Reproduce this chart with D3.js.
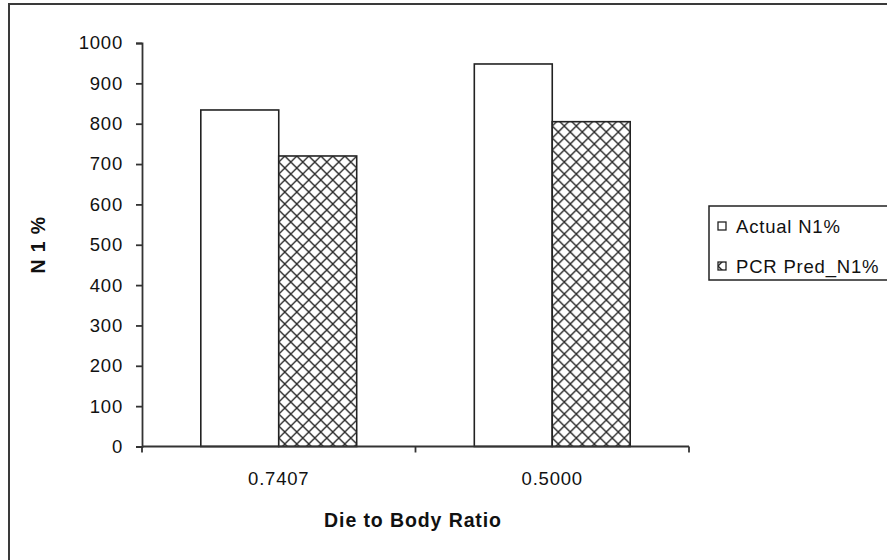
<!DOCTYPE html>
<html>
<head>
<meta charset="utf-8">
<script src="https://cdn.jsdelivr.net/npm/d3@7"></script>
<style>
  html, body { margin: 0; padding: 0; background: #fff; }
  svg { display: block; }
  text { font-family: Arial, "Liberation Sans", sans-serif; fill: #111; }
</style>
</head>
<body>
<svg id="chart" width="887" height="560"></svg>
<script>
// Chart data
const categories = ["0.7407", "0.5000"];
const seriesNames = ["Actual N1%", "PCR Pred_N1%"];
const actualN1 = [834, 948];
const pcrPredN1 = [720, 805];
const yTicks = [0, 100, 200, 300, 400, 500, 600, 700, 800, 900, 1000];
const xTitle = "Die to Body Ratio";
const yTitle = "N 1 %";

const seriesValues = [actualN1, pcrPredN1];

const svg = d3.select("#chart");
const ink = "#222";
const labelSize = 18.5;

// Crosshatch fill for the predicted series
const defs = svg.append("defs");
const hatch = defs.append("pattern")
  .attr("id", "crosshatch")
  .attr("patternUnits", "userSpaceOnUse")
  .attr("width", 12).attr("height", 12);
hatch.append("rect").attr("width", 12).attr("height", 12).attr("fill", "#fff");
hatch.append("path")
  .attr("d", "M0,0L12,12M12,0L0,12M-1,11L1,13M11,-1L13,1")
  .attr("stroke", "#2a2a2a").attr("stroke-width", 1.4).attr("fill", "none");

const fills = ["#fff", "url(#crosshatch)"];

// Outer chart frame
svg.append("rect")
  .attr("x", 9).attr("y", 4).attr("width", 900).attr("height", 600)
  .attr("fill", "#fff").attr("stroke", "#3a3a3a").attr("stroke-width", 2);

// Plot geometry
const plot = { left: 142, right: 689, top: 43, bottom: 446.5 };

const x = d3.scaleBand()
  .domain(categories)
  .range([plot.left, plot.right])
  .paddingInner(0.43)
  .paddingOuter(0.215);

const xs = d3.scaleBand()
  .domain(d3.range(seriesNames.length))
  .range([0, x.bandwidth()]);

const y = d3.scaleLinear().domain([0, 1000]).range([plot.bottom, plot.top]);

// Bars
const groups = svg.append("g").selectAll("g")
  .data(categories)
  .join("g")
  .attr("transform", d => `translate(${x(d)},0)`);

groups.selectAll("rect")
  .data((c, ci) => seriesValues.map((vals, si) => ({ si, v: vals[ci] })))
  .join("rect")
  .attr("x", d => xs(d.si))
  .attr("width", xs.bandwidth())
  .attr("y", d => y(d.v))
  .attr("height", d => y(0) - y(d.v))
  .attr("fill", d => fills[d.si])
  .attr("stroke", ink)
  .attr("stroke-width", 1.6);

// Y axis
const yAxis = svg.append("g")
  .attr("transform", `translate(${plot.left},0)`)
  .call(d3.axisLeft(y).tickValues(yTicks).tickSize(6).tickPadding(13).tickFormat(d3.format("d")));
yAxis.select(".domain").attr("stroke", "#333").attr("stroke-width", 1.8);
yAxis.selectAll(".tick line").attr("stroke", "#333").attr("stroke-width", 1.8);
yAxis.selectAll(".tick text")
  .attr("font-size", labelSize).attr("letter-spacing", 0.8)
  .attr("font-family", "Arial, 'Liberation Sans', sans-serif").attr("fill", "#111");

// X axis: line with ticks at category boundaries
const step = x.step();
const boundaries = [plot.left].concat(categories.map(c => x(c) - step * 0.215 + step));
const xAxis = svg.append("g");
xAxis.append("line")
  .attr("x1", plot.left).attr("x2", plot.right)
  .attr("y1", y(0)).attr("y2", y(0))
  .attr("stroke", "#333").attr("stroke-width", 1.8);
xAxis.selectAll("line.tk")
  .data(boundaries)
  .join("line").attr("class", "tk")
  .attr("x1", d => d).attr("x2", d => d)
  .attr("y1", y(0)).attr("y2", y(0) + 6)
  .attr("stroke", "#333").attr("stroke-width", 1.8);
xAxis.selectAll("text")
  .data(categories)
  .join("text")
  .attr("x", d => x(d) + x.bandwidth() / 2)
  .attr("y", y(0) + 38)
  .attr("text-anchor", "middle")
  .attr("font-size", labelSize).attr("letter-spacing", 0.8)
  .text(d => d);

// Axis titles
svg.append("text")
  .attr("x", 413)
  .attr("y", 527)
  .attr("text-anchor", "middle")
  .attr("font-size", 19.5).attr("font-weight", "bold").attr("letter-spacing", 0.9)
  .text(xTitle);

svg.append("text")
  .attr("transform", `translate(45,${(plot.top + plot.bottom) / 2}) rotate(-90)`)
  .attr("text-anchor", "middle")
  .attr("font-size", 19.5).attr("font-weight", "bold").attr("letter-spacing", 0.9)
  .text(yTitle);

// Legend
const legend = svg.append("g");
legend.append("rect")
  .attr("x", 709).attr("y", 206).attr("width", 200).attr("height", 74)
  .attr("fill", "#fff").attr("stroke", "#222").attr("stroke-width", 1.5);
const items = legend.selectAll("g.item")
  .data(seriesNames)
  .join("g").attr("class", "item")
  .attr("transform", (d, i) => `translate(718,${226 + i * 40})`);
items.append("rect")
  .attr("x", 0).attr("y", -4).attr("width", 8).attr("height", 8)
  .attr("fill", (d, i) => fills[i])
  .attr("stroke", ink).attr("stroke-width", 1.3);
items.append("text")
  .attr("x", 18).attr("y", 6.5)
  .attr("font-size", labelSize).attr("letter-spacing", 0.8)
  .text(d => d);
</script>
</body>
</html>
